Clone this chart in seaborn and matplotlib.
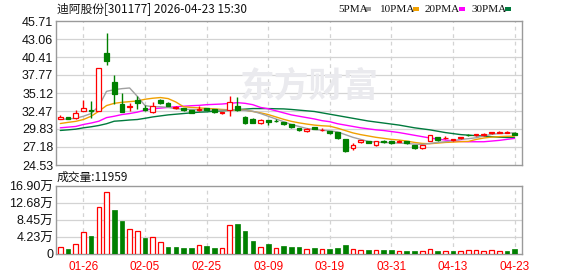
import matplotlib
matplotlib.use('Agg')
import matplotlib.pyplot as plt
import seaborn as sns
import numpy as np
import pandas as pd
from matplotlib.patches import Rectangle

sns.set_theme(style='white')
plt.rcParams['font.family'] = ['Liberation Sans', 'Noto Sans CJK SC', 'DejaVu Sans']

# ---------------- data ----------------
dates = ['01-21', '01-22', '01-23', '01-26', '01-27', '01-28', '01-29', '01-30',
         '02-02', '02-03', '02-04', '02-05', '02-06', '02-09', '02-10', '02-11',
         '02-12', '02-13', '02-24', '02-25', '02-26', '02-27', '03-02', '03-03',
         '03-04', '03-05', '03-06', '03-09', '03-10', '03-11', '03-12', '03-13',
         '03-16', '03-17', '03-18', '03-19', '03-20', '03-23', '03-24', '03-25',
         '03-26', '03-27', '03-30', '03-31', '04-01', '04-02', '04-03', '04-07',
         '04-08', '04-09', '04-10', '04-13', '04-14', '04-15', '04-16', '04-17',
         '04-20', '04-21', '04-22', '04-23']

opens = [31.32, 31.60, 31.50, 32.49, 32.56, 32.44, 40.98, 36.68, 33.56, 33.08,
         34.15, 32.98, 32.29, 34.05, 33.71, 32.88, 32.88, 32.58, 32.62, 32.88,
         32.70, 32.15, 32.69, 33.17, 31.61, 31.36, 30.68, 31.12, 31.02, 30.83,
         30.49, 29.95, 29.51, 30.05, 29.68, 29.50, 29.36, 28.29, 26.97, 27.85,
         28.05, 27.41, 28.05, 28.05, 27.90, 28.00, 27.41, 27.00, 28.05, 28.59,
         28.45, 28.14, 28.44, 28.92, 28.88, 29.00, 29.20, 29.25, 29.30, 29.30]
closes = [31.66, 31.36, 32.20, 32.93, 32.52, 38.79, 39.86, 35.03, 32.39, 33.27,
          33.66, 32.58, 33.17, 33.71, 33.27, 33.08, 32.58, 32.24, 32.70, 32.62,
          32.30, 32.30, 33.75, 32.58, 30.73, 30.78, 31.22, 30.83, 30.98, 30.54,
          30.05, 29.66, 29.86, 29.86, 29.72, 29.17, 28.48, 26.58, 27.51, 28.14,
          27.75, 28.00, 27.85, 27.70, 28.00, 27.70, 27.00, 27.41, 28.88, 28.25,
          28.50, 28.34, 28.63, 28.88, 29.10, 29.05, 29.40, 29.45, 29.45, 29.00]
highs = [31.95, 31.65, 32.68, 34.15, 33.90, 38.79, 44.00, 37.81, 35.12, 33.66,
         34.73, 33.40, 33.80, 34.25, 33.75, 33.20, 32.95, 32.65, 33.27, 32.95,
         32.75, 32.35, 34.73, 34.54, 31.75, 31.45, 31.30, 31.15, 31.25, 30.90,
         30.55, 30.00, 29.90, 30.10, 29.90, 29.55, 29.40, 28.35, 27.70, 28.20,
         28.10, 28.05, 28.15, 28.10, 28.15, 28.10, 27.45, 27.45, 28.95, 28.65,
         28.75, 28.40, 28.70, 29.05, 29.15, 29.20, 29.45, 29.50, 29.50, 29.40]
lows = [31.25, 31.30, 31.30, 32.45, 31.47, 32.40, 39.17, 33.52, 32.29, 32.44,
        32.78, 32.40, 32.15, 33.50, 33.20, 32.70, 32.50, 32.15, 32.44, 32.55,
        32.20, 32.10, 31.70, 32.50, 30.55, 30.70, 30.60, 30.45, 30.80, 30.45,
        29.95, 29.60, 29.45, 29.80, 29.50, 29.10, 28.40, 26.45, 26.70, 27.80,
        27.70, 27.35, 27.70, 27.55, 27.85, 27.60, 26.95, 26.95, 28.00, 28.10,
        28.35, 28.10, 28.40, 28.75, 28.85, 28.85, 29.15, 29.20, 29.25, 28.95]

ma5 = [31.22, 31.30, 31.40, 31.70, 32.10, 33.17, 35.36, 35.61, 35.76, 35.86,
       34.63, 33.27, 33.10, 33.10, 33.00, 32.80, 32.75, 32.70, 32.65, 32.60,
       32.58, 32.60, 32.65, 32.68, 32.55, 32.44, 32.10, 31.70, 31.30, 30.90,
       30.49, 30.20, 29.90, 29.75, 29.65, 29.55, 29.40, 29.00, 28.60, 28.30,
       28.00, 27.90, 27.85, 27.80, 27.75, 27.70, 27.60, 27.56, 27.70, 27.85,
       27.95, 28.10, 28.29, 28.40, 28.54, 28.80, 29.05, 29.15, 29.20, 29.27]
ma10 = [30.63, 30.80, 30.95, 31.22, 31.70, 32.44, 33.27, 33.60, 33.75, 33.85,
        33.95, 34.20, 34.35, 34.45, 34.30, 33.80, 33.10, 33.00, 32.93, 32.85,
        32.78, 32.70, 32.65, 32.60, 32.60, 32.40, 32.20, 31.95, 31.60, 31.25,
        30.95, 30.73, 30.55, 30.40, 30.30, 30.24, 29.95, 29.60, 29.25, 29.00,
        28.80, 28.60, 28.45, 28.30, 28.20, 28.05, 27.85, 27.70, 27.66, 27.75,
        27.85, 27.90, 27.95, 28.00, 28.29, 28.50, 28.63, 28.70, 28.75, 28.78]
ma20 = [30.00, 30.10, 30.20, 30.49, 30.70, 30.97, 31.50, 31.70, 31.95, 32.10,
        32.30, 32.60, 32.80, 32.90, 33.00, 33.10, 33.17, 33.25, 33.30, 33.40,
        33.45, 33.50, 33.60, 33.70, 33.60, 33.40, 33.00, 32.80, 32.50, 32.20,
        31.90, 31.70, 31.50, 31.30, 31.05, 30.90, 30.60, 30.40, 30.20, 30.00,
        29.85, 29.70, 29.60, 29.45, 29.30, 29.10, 28.90, 28.70, 28.50, 28.35,
        28.20, 28.10, 28.00, 27.95, 27.95, 27.95, 28.05, 28.15, 28.30, 28.44]
ma30 = [29.61, 29.70, 29.80, 30.00, 30.15, 30.34, 30.60, 30.97, 31.05, 31.15,
        31.22, 31.40, 31.60, 31.75, 31.90, 32.00, 32.10, 32.20, 32.30, 32.34,
        32.45, 32.50, 32.58, 32.68, 32.75, 32.83, 32.83, 32.83, 32.80, 32.78,
        32.70, 32.60, 32.50, 32.40, 32.20, 32.00, 31.80, 31.60, 31.40, 31.20,
        31.00, 30.85, 30.70, 30.55, 30.40, 30.20, 30.00, 29.85, 29.70, 29.50,
        29.30, 29.15, 29.00, 28.92, 28.85, 28.78, 28.70, 28.62, 28.58, 28.54]

volume_wan = [1.65, 1.24, 2.47, 5.44, 4.45, 11.6, 15.5, 10.9, 8.16, 6.1,
              5.6, 3.96, 4.12, 2.97, 1.73, 1.73, 1.48, 1.48, 2.14, 1.98,
              1.48, 1.4, 7.09, 7.42, 5.69, 3.2, 1.65, 2.47, 1.4, 1.98,
              1.73, 1.71, 1.14, 1.47, 1.14, 1.22, 1.47, 2.2, 1.14, 0.98,
              1.06, 0.98, 1.06, 1.06, 0.73, 0.73, 0.73, 0.73, 1.22, 0.73,
              0.73, 0.73, 0.73, 0.98, 0.98, 0.73, 0.98, 0.73, 0.73, 1.1959]
volume_up = [1, 0, 1, 1, 0, 1, 1, 0, 0, 1,
             1, 0, 1, 1, 0, 0, 0, 0, 1, 0,
             0, 1, 1, 0, 0, 0, 1, 0, 1, 0,
             0, 0, 1, 0, 1, 0, 0, 0, 1, 1,
             0, 1, 0, 0, 1, 0, 0, 1, 1, 0,
             1, 0, 1, 1, 1, 1, 1, 1, 0, 0]

price_ticks = [24.53, 27.18, 29.83, 32.47, 35.12, 37.77, 40.41, 43.06, 45.71]
vol_ticks = [0, 4.23, 8.45, 12.68, 16.90]
vol_tick_labels = ['0', '4.23万', '8.45万', '12.68万', '16.90万']
date_ticks = ['01-26', '02-05', '02-25', '03-09', '03-19', '03-31', '04-13', '04-23']
title_text = '迪阿股份[301177] 2026-04-23 15:30'
vol_title = '成交量:11959'
legend_names = ['5PMA', '10PMA', '20PMA', '30PMA']

# ---------------- style ----------------
RED = '#FF0000'
GREEN = '#008000'
MA_COLORS = ['#A0A0A0', '#F0A000', '#FF00FF', '#007A3D']
GRID = '#D3D3D3'
SPINE = '#9A9A9A'

W, H = 578, 276
fig = plt.figure(figsize=(W / 100, H / 100), dpi=100)
fig.patch.set_facecolor('white')


def rect(l, t, r, b):
    return [l / W, 1 - b / H, (r - l) / W, (b - t) / H]


axp = fig.add_axes(rect(56, 21, 522, 165))
axv = fig.add_axes(rect(56, 186, 522, 254))

n = len(dates)
idx = np.arange(n)
tick_pos = [dates.index(d) for d in date_ticks]

# ---- price panel ----
for ax in (axp, axv):
    ax.set_facecolor('white')
    for s in ax.spines.values():
        s.set_color(SPINE)
        s.set_linewidth(1.0)
    ax.set_xlim(-0.56, n - 0.04)
    for p in tick_pos:
        ax.axvline(p, color=GRID, lw=0.9, ls=(0, (3, 3)), zorder=0.5)

for yv in price_ticks[1:-1]:
    axp.axhline(yv, color=GRID, lw=0.9, zorder=0.5)

# watermark
axp.text(309 / W, 1 - 86 / H, '东方财富', transform=fig.transFigure,
         fontsize=25, color='#EAEAEE', fontweight='bold',
         family=['Noto Sans CJK SC'], ha='center', va='center', zorder=0.8)

# MA lines via seaborn
ma_df = pd.DataFrame({'idx': idx, '5PMA': ma5, '10PMA': ma10, '20PMA': ma20, '30PMA': ma30})
for name, col in zip(legend_names[::-1], MA_COLORS[::-1]):
    sns.lineplot(data=ma_df, x='idx', y=name, ax=axp, color=col, lw=1.0, zorder=2)

# candles
for i in idx:
    o, c, h, l = opens[i], closes[i], highs[i], lows[i]
    up = c >= o
    col = RED if up else GREEN
    axp.vlines(i, l, h, color=col, lw=1.0, zorder=3)
    body = max(abs(c - o), 0.001)
    axp.bar(i, body, bottom=min(o, c), width=0.62,
            facecolor='white' if up else GREEN, edgecolor=col, lw=0.9, zorder=4)

axp.set_ylim(price_ticks[0], price_ticks[-1])
axp.set_yticks(price_ticks)
axp.set_yticklabels([f'{v:.2f}' for v in price_ticks], fontsize=9, color='#111111')
axp.set_xticks(tick_pos)
axp.set_xticklabels([])
axp.tick_params(axis='both', length=0, pad=2)
axp.set_xlabel('')
axp.set_ylabel('')

# ---- volume panel ----
for yv in vol_ticks[1:-1]:
    axv.axhline(yv, color=GRID, lw=0.9, zorder=0.5)

vol_df = pd.DataFrame({'idx': idx, 'vol': volume_wan})
sns.barplot(data=vol_df, x='idx', y='vol', ax=axv, native_scale=True,
            width=0.6, color=GREEN, zorder=3)
for patch, up in zip(axv.patches, volume_up):
    if up:
        patch.set_facecolor('white')
        patch.set_edgecolor(RED)
        patch.set_linewidth(0.9)
    else:
        patch.set_facecolor(GREEN)
        patch.set_edgecolor(GREEN)
        patch.set_linewidth(0.5)

axv.set_xlim(-0.56, n - 0.04)
axv.set_ylim(0, vol_ticks[-1])
axv.set_yticks(vol_ticks)
axv.set_yticklabels(vol_tick_labels, fontsize=9, color='#111111')
axv.set_xticks(tick_pos)
axv.set_xticklabels(date_ticks, fontsize=8.5, color=RED)
axv.tick_params(axis='y', length=0, pad=2)
axv.tick_params(axis='x', length=0, pad=5)
axv.set_xlabel('')
axv.set_ylabel('')

# ---- texts ----
fig.text(57 / W, 1 - 8.5 / H, title_text, fontsize=8.5, color='#111111',
         family=['Noto Sans CJK SC'], ha='left', va='center')
fig.text(57 / W, 1 - 177 / H, vol_title, fontsize=8.5, color='#111111',
         family=['Noto Sans CJK SC'], ha='left', va='center')

leg_x = [338, 380, 425, 471]
sq_x = [365, 413, 459, 505]
for name, col, tx, sx in zip(legend_names, MA_COLORS, leg_x, sq_x):
    fig.text(tx / W, 1 - 9 / H, name, fontsize=8, color='#111111',
             family=['Liberation Serif'], ha='left', va='center')
    fig.patches.append(Rectangle((sx / W, 1 - 10.5 / H), 6 / W, 3 / H,
                                 transform=fig.transFigure, facecolor=col,
                                 edgecolor='none'))

fig.savefig('out.png', dpi=100, facecolor='white')
